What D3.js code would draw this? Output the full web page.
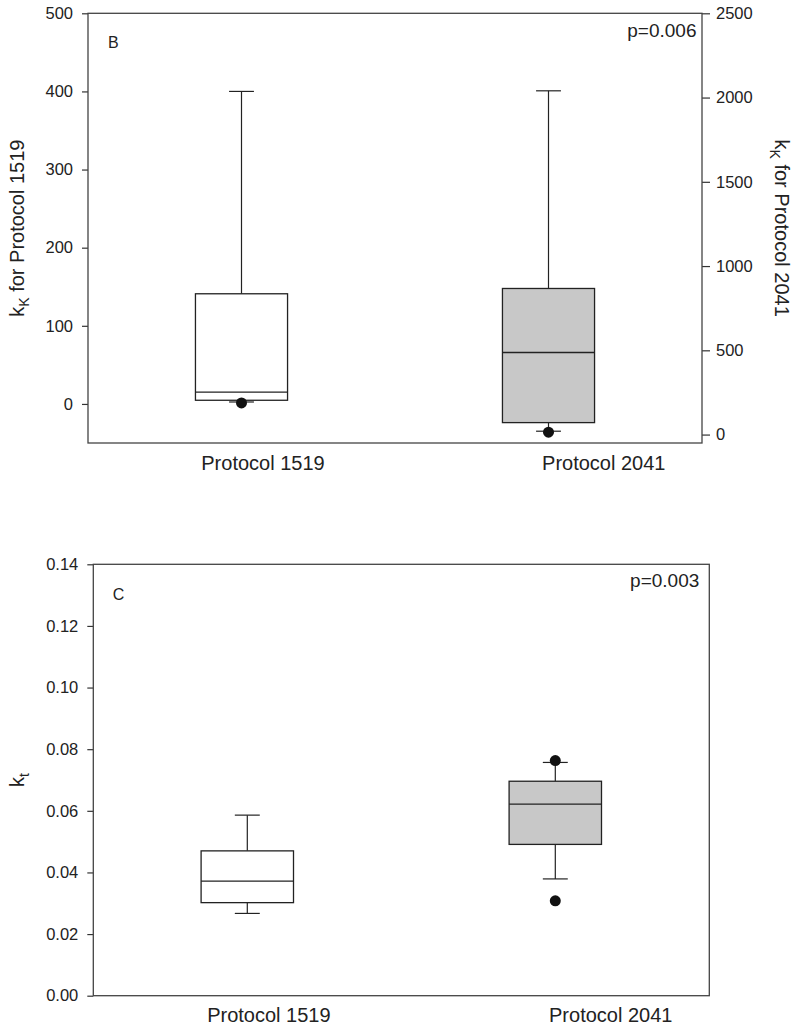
<!DOCTYPE html>
<html><head><meta charset="utf-8">
<script src="https://cdn.jsdelivr.net/npm/d3@7"></script>
<style>
body{margin:0;background:#fff;}
text{font-family:"Liberation Sans",Arial,sans-serif;fill:#222;}
</style></head>
<body>
<svg id="chart" width="800" height="1029"></svg>
<script>
// ---- data ----
const categories = ["Protocol 1519", "Protocol 2041"];
// [lower whisker, Q1, median, Q3, upper whisker]
const kK1519 = [2.5, 4.7, 15, 141, 400];
const kK1519Outliers = [1.3];
const kK2041 = [20, 71, 487, 867, 2040];
const kK2041Outliers = [14];
const kt1519 = [0.0267, 0.0302, 0.0372, 0.0470, 0.0586];
const kt1519Outliers = [];
const kt2041 = [0.0379, 0.0491, 0.0622, 0.0696, 0.0757];
const kt2041Outliers = [0.0763, 0.0308];
const kKLeftTicks = [0, 100, 200, 300, 400, 500];
const kKRightTicks = [0, 500, 1000, 1500, 2000, 2500];
const ktTicks = [0, 0.02, 0.04, 0.06, 0.08, 0.10, 0.12, 0.14];
const boxFills = ["#ffffff", "#c8c8c8"];

const svg = d3.select("#chart");
const INK = "#222";

function drawBox(g, cx, bw, y, stats, outliers, fill) {
  const [lo, q1, med, q3, hi] = stats;
  const cap = bw * 0.27;
  g.append("line").attr("x1", cx).attr("x2", cx).attr("y1", y(q3)).attr("y2", y(hi)).attr("stroke", INK).attr("stroke-width", 1.2);
  g.append("line").attr("x1", cx).attr("x2", cx).attr("y1", y(q1)).attr("y2", y(lo)).attr("stroke", INK).attr("stroke-width", 1.2);
  g.append("line").attr("x1", cx - cap / 2).attr("x2", cx + cap / 2).attr("y1", y(hi)).attr("y2", y(hi)).attr("stroke", INK).attr("stroke-width", 1.2);
  g.append("line").attr("x1", cx - cap / 2).attr("x2", cx + cap / 2).attr("y1", y(lo)).attr("y2", y(lo)).attr("stroke", INK).attr("stroke-width", 1.2);
  g.append("rect").attr("x", cx - bw / 2).attr("width", bw).attr("y", y(q3)).attr("height", y(q1) - y(q3))
    .attr("fill", fill).attr("stroke", INK).attr("stroke-width", 1.3);
  g.append("line").attr("x1", cx - bw / 2).attr("x2", cx + bw / 2).attr("y1", y(med)).attr("y2", y(med)).attr("stroke", INK).attr("stroke-width", 1.3);
  g.selectAll(null).data(outliers).enter().append("circle")
    .attr("cx", cx).attr("cy", d => y(d)).attr("r", 5.5).attr("fill", "#111");
}

function styleAxis(ax) {
  ax.select(".domain").remove();
  ax.selectAll(".tick line").attr("stroke", "#333").attr("stroke-width", 1.2);
  ax.selectAll(".tick text").attr("font-size", "16.5px").attr("fill", "#222")
    .style("font-family", "'Liberation Sans',Arial,sans-serif");
}

function xLabels(g, w, h, baseline) {
  const lx = d3.scalePoint().domain(categories).range([0, w]).padding(0.5);
  const shift = [0.035, 0.09];
  g.selectAll(null).data(categories).enter().append("text")
    .attr("x", (d, i) => lx(d) + shift[i] * w).attr("y", h + baseline)
    .attr("text-anchor", "middle").attr("font-size", "20px").text(d => d);
}

// ---------- Panel B ----------
{
  const m = {l: 88, t: 13.3};
  const w = 614, h = 429.7;
  const g = svg.append("g").attr("transform", `translate(${m.l},${m.t})`);
  const x = d3.scalePoint().domain(categories).range([0, w]).padding(0.5);
  const yL = d3.scaleLinear().domain([-50, 500]).range([h, 0]);
  const yR = d3.scaleLinear().domain([-50, 2500]).range([h, 0]);
  const bw = w * 0.15;

  const axL = g.append("g").call(d3.axisLeft(yL).tickValues(kKLeftTicks).tickFormat(d3.format("d")).tickSize(6).tickPadding(9).tickSizeOuter(0));
  styleAxis(axL);
  const axR = g.append("g").attr("transform", `translate(${w},0)`)
    .call(d3.axisRight(yR).tickValues(kKRightTicks).tickFormat(d3.format("d")).tickSize(8).tickPadding(6).tickSizeOuter(0));
  styleAxis(axR);

  drawBox(g, x(categories[0]), bw, yL, kK1519, kK1519Outliers, boxFills[0]);
  drawBox(g, x(categories[1]), bw, yR, kK2041, kK2041Outliers, boxFills[1]);

  g.append("rect").attr("width", w).attr("height", h).attr("fill", "none").attr("stroke", "#444").attr("stroke-width", 1.3);

  g.append("text").attr("x", 20).attr("y", 35).attr("font-size", "16px").text("B");
  g.append("text").attr("x", w - 5.5).attr("y", 23.5).attr("text-anchor", "end").attr("font-size", "19px").text("p=0.006");

  xLabels(g, w, h, 27.5);

  const tl = svg.append("text").attr("transform", `translate(24,${m.t + h / 2}) rotate(-90)`)
    .attr("text-anchor", "middle").attr("font-size", "20px");
  tl.append("tspan").text("k");
  tl.append("tspan").attr("font-size", "14px").attr("dy", "5").text("K");
  tl.append("tspan").attr("dy", "-5").text(" for Protocol 1519");

  const tr = svg.append("text").attr("transform", `translate(775,${m.t + h / 2}) rotate(90)`)
    .attr("text-anchor", "middle").attr("font-size", "20px");
  tr.append("tspan").text("k");
  tr.append("tspan").attr("font-size", "14px").attr("dy", "5").text("K");
  tr.append("tspan").attr("dy", "-5").text(" for Protocol 2041");
}

// ---------- Panel C ----------
{
  const m = {l: 93.3, t: 564.3};
  const w = 616, h = 431.4;
  const g = svg.append("g").attr("transform", `translate(${m.l},${m.t})`);
  const x = d3.scalePoint().domain(categories).range([0, w]).padding(0.5);
  const y = d3.scaleLinear().domain([0, 0.14]).range([h, 0]);
  const bw = w * 0.15;

  const ax = g.append("g").call(d3.axisLeft(y).tickValues(ktTicks).tickFormat(d3.format(".2f")).tickSize(6).tickPadding(9).tickSizeOuter(0));
  styleAxis(ax);

  drawBox(g, x(categories[0]), bw, y, kt1519, kt1519Outliers, boxFills[0]);
  drawBox(g, x(categories[1]), bw, y, kt2041, kt2041Outliers, boxFills[1]);

  g.append("rect").attr("width", w).attr("height", h).attr("fill", "none").attr("stroke", "#444").attr("stroke-width", 1.3);

  g.append("text").attr("x", 19.5).attr("y", 35.7).attr("font-size", "16px").text("C");
  g.append("text").attr("x", w - 10).attr("y", 22.4).attr("text-anchor", "end").attr("font-size", "19px").text("p=0.003");

  xLabels(g, w, h, 26);

  const tl = svg.append("text").attr("transform", `translate(24,${m.t + h / 2}) rotate(-90)`)
    .attr("text-anchor", "middle").attr("font-size", "20px");
  tl.append("tspan").text("k");
  tl.append("tspan").attr("font-size", "14px").attr("dy", "5").text("t");
}
</script>
</body></html>
